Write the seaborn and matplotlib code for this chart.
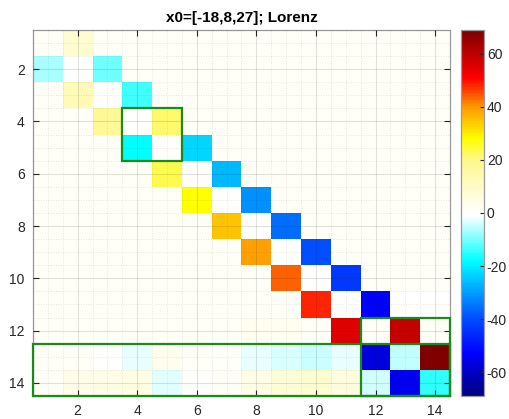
import numpy as np
import pandas as pd
import matplotlib
matplotlib.use("Agg")
import matplotlib.pyplot as plt
import seaborn as sns
from matplotlib.colors import LinearSegmentedColormap
from matplotlib.patches import Rectangle

# ---- data -------------------------------------------------------------
title = "x0=[-18,8,27]; Lorenz"
tick_labels = [2, 4, 6, 8, 10, 12, 14]
cbar_ticks = [-60, -40, -20, 0, 20, 40, 60]
vlim = 69

r01 = [1.2, 8.2, 1.2, 1.2, 1.2, 1.2, 1.2, 1.2, 1.2, 1.2, 1.2, 1.2, 1.2, 1.2]
r02 = [-6.8, 0, -10.5, 1.2, 1.2, 1.2, 1.2, 1.2, 1.2, 1.2, 1.2, 1.2, 1.2, 1.2]
r03 = [1.2, 12.4, 0, -13.8, 1.2, 1.2, 1.2, 1.2, 1.2, 1.2, 1.2, 1.2, 1.2, 1.2]
r04 = [1.2, 1.2, 17.8, 0, 21.6, 1.2, 1.2, 1.2, 1.2, 1.2, 1.2, 1.2, 1.2, 1.2]
r05 = [1.2, 1.2, 1.2, -18, 0, -22.7, 1.2, 1.2, 1.2, 1.2, 1.2, 1.2, 1.2, 1.2]
r06 = [1.2, 1.2, 1.2, 1.2, 23.5, 0, -26.5, 1.2, 1.2, 1.2, 1.2, 1.2, 1.2, 1.2]
r07 = [1.2, 1.2, 1.2, 1.2, 1.2, 27.5, 0, -31.8, 1.2, 1.2, 1.2, 1.2, 1.2, 1.2]
r08 = [1.2, 1.2, 1.2, 1.2, 1.2, 1.2, 34.6, 0, -35.6, 1.2, 1.2, 1.2, 1.2, 1.2]
r09 = [1.2, 1.2, 1.2, 1.2, 1.2, 1.2, 1.2, 39, 0, -39.7, 1.2, 1.2, 1.2, 1.2]
r10 = [1.2, 1.2, 1.2, 1.2, 1.2, 1.2, 1.2, 1.2, 43.7, 0, -43.5, 1.2, 1.2, 1.2]
r11 = [1.2, 1.2, 1.2, 1.2, 1.2, 1.2, 1.2, 1.2, 1.2, 48, 0, -53, 0, 0]
r12 = [1.2, 1.2, 1.2, 1.2, 1.2, 1.2, 1.2, 2.5, 2.5, 1.2, 55.3, 1.2, 59, 1.2]
r13 = [1.2, 1.2, 0, -2.2, 3, 1.2, 0.6, -2.4, -3.7, -4.7, -2.4, -57, -5.3, 69]
r14 = [1.2, 4, 4.5, 5, -3.1, 0, 1.5, 4.5, 7, 8.5, 5.5, -4, -54.5, -14.8]

rows = [r01, r02, r03, r04, r05, r06, r07, r08, r09, r10, r11, r12, r13, r14]
n = len(rows)
labels = list(range(1, n + 1))
mat = pd.DataFrame(rows, index=labels, columns=labels)

# ---- diverging jet-like colormap with white at zero --------------------
nodes = [
    (-69, (0.0, 0.0, 0.5)),
    (-53, (0.0, 0.0, 1.0)),
    (-40, (0.0, 0.3, 1.0)),
    (-18, (0.0, 1.0, 1.0)),
    (-1, (1.0, 1.0, 1.0)),
    (0, (1.0, 1.0, 1.0)),
    (20, (1.0, 0.97, 0.55)),
    (28, (1.0, 1.0, 0.0)),
    (40, (1.0, 0.6, 0.0)),
    (51, (1.0, 0.0, 0.0)),
    (69, (0.5, 0.0, 0.0)),
]
cmap = LinearSegmentedColormap.from_list(
    "jetwhite", [((v + vlim) / (2 * vlim), c) for v, c in nodes], N=256)

# ---- figure -----------------------------------------------------------
plt.rcParams["font.family"] = ["Liberation Sans", "DejaVu Sans"]
fig = plt.figure(figsize=(5.10, 4.19), dpi=100)
ax = fig.add_axes([0.0647, 0.0549, 0.8176, 0.8735])
cax = fig.add_axes([0.904, 0.0549, 0.045, 0.8735])

sns.heatmap(mat, ax=ax, cbar_ax=cax, cmap=cmap, vmin=-vlim, vmax=vlim,
            linewidths=0, xticklabels=False, yticklabels=False)

# ticks at cell centres of even indices
pos = [t - 0.5 for t in tick_labels]
ax.set_xticks(pos)
ax.set_xticklabels([str(t) for t in tick_labels])
ax.set_yticks(pos)
ax.set_yticklabels([str(t) for t in tick_labels], rotation=0)
minor = [m for m in np.arange(0, n + 0.01, 0.5) if m not in pos]
ax.set_xticks(minor, minor=True)
ax.set_yticks(minor, minor=True)

ax.tick_params(which="major", direction="in", length=4, width=0.8,
               colors="#262626", labelsize=10, top=True, right=True,
               bottom=True, left=True, pad=6)
ax.tick_params(which="minor", length=0)
ax.set_axisbelow(False)
ax.grid(which="major", color="#262626", alpha=0.13, lw=0.8, ls="-")
ax.grid(which="minor", color="#262626", alpha=0.15, lw=0.6, ls=(0, (1, 2)))
ax.set_xlabel("")
ax.set_ylabel("")

for s in ax.spines.values():
    s.set_visible(True)
    s.set_color("#9a9a9a")
    s.set_linewidth(0.9)

# highlighted blocks
green = "#1a8a1a"
for (x0, y0, w, h) in [(3, 3, 2, 2), (0, 12, 14, 2), (11, 11, 3, 3)]:
    ax.add_patch(Rectangle((x0, y0), w, h, fill=False, edgecolor=green,
                           lw=1.6, clip_on=False, zorder=5))

ax.set_title(title, fontsize=11, fontweight="bold", color="black", pad=6)

# colorbar styling
cax.set_yticks(cbar_ticks)
cax.set_yticklabels([str(t) for t in cbar_ticks])
cax.tick_params(direction="in", length=3, width=0.8, colors="#262626",
                labelsize=10, pad=2)
cb = ax.collections[0].colorbar
cb.outline.set_edgecolor("#9a9a9a")
cb.outline.set_linewidth(0.9)

fig.savefig("out.png", dpi=100)
